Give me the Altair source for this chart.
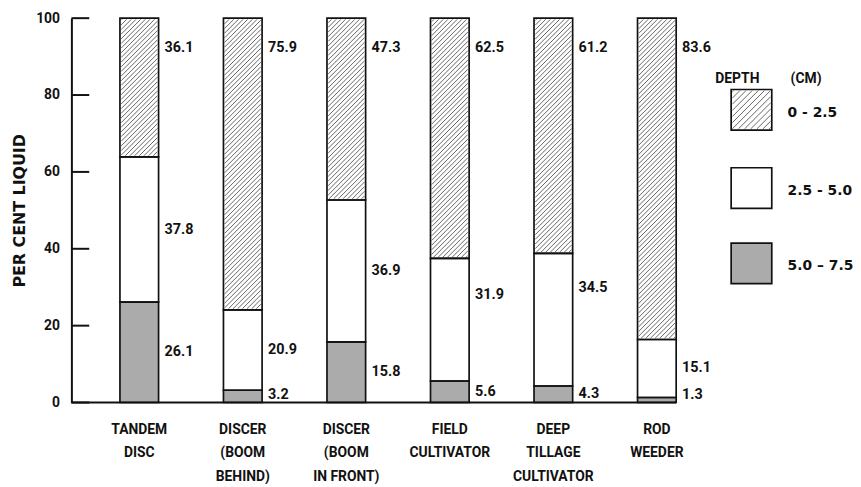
import altair as alt
import pandas as pd
import numpy as np

# ---------------- data ----------------
implements = ["TANDEM\nDISC", "DISCER\n(BOOM\nBEHIND)", "DISCER\n(BOOM\nIN FRONT)",
              "FIELD\nCULTIVATOR", "DEEP\nTILLAGE\nCULTIVATOR", "ROD\nWEEDER"]
depths = ["0 - 2.5", "2.5 - 5.0", "5.0 \u2013 7.5"]
pct_0_25 = [36.1, 75.9, 47.3, 62.5, 61.2, 83.6]
pct_25_50 = [37.8, 20.9, 36.9, 31.9, 34.5, 15.1]
pct_50_75 = [26.1, 3.2, 15.8, 5.6, 4.3, 1.3]
y_ticks = [0, 20, 40, 60, 80, 100]

# ---------------- layout / style ----------------
W, H = 781, 388
PAD = {"left": 64, "top": 8, "right": 8, "bottom": 82}
PX_X = 104.5                      # pixels per category step
X0 = -68.5 / PX_X                 # domain start
XD = [X0, X0 + W / PX_X]
PX_Y = H / 100.0
BAR_HALF = 19.5 / PX_X
LABEL_GAP = 6 / PX_X
FONT = "Roboto"
WIDE_FONT = "DejaVu Sans"
INK = "#111111"
GRAY = "#ababab"
HATCH_COLOR = "#4a4a4a"
label_nudge_px = {(3, 1): -25, (4, 1): -32}   # (bar, layer) -> vertical px shift

def px_to_x(px):
    return X0 + px / PX_X

def px_to_y(py):
    return 100 - py / PX_Y

# ---------------- derived tables ----------------
layers = [pct_50_75, pct_25_50, pct_0_25]          # bottom -> top
layer_depth = [depths[2], depths[1], depths[0]]
rows = []
for i in range(len(implements)):
    lo = 0.0
    for k, vals in enumerate(layers):
        v = vals[i]
        hi = lo + v
        if k == 2:
            ly = px_to_y(30)                          # top labels sit near the top
        elif k == 0:
            ly = max((lo + hi) / 2, 2.0)
        else:
            ly = (lo + hi) / 2
        ly -= label_nudge_px.get((i, k), 0) / PX_Y
        rows.append(dict(idx=i, depth=layer_depth[k], lo=lo, hi=hi,
                         xl=i - BAR_HALF, xr=i + BAR_HALF, value=v,
                         lx=i + BAR_HALF + LABEL_GAP, ly=ly))
        lo = hi
bars = pd.DataFrame(rows)

# legend geometry (plot pixel coordinates)
LEG_BOX_L, LEG_BOX = 666, 41
LEG_TOPS = [72, 151, 227]
leg_rows = []
for d, t in zip(depths, LEG_TOPS):
    leg_rows.append(dict(depth=d, xl=px_to_x(LEG_BOX_L), xr=px_to_x(LEG_BOX_L + LEG_BOX),
                         lo=px_to_y(t + LEG_BOX), hi=px_to_y(t),
                         lx=px_to_x(723), ly=px_to_y(t + LEG_BOX / 2 + 3)))
legend = pd.DataFrame(leg_rows)


def hatch(df, spacing, inset=1.2):
    out = []
    for _, r in df.iterrows():
        Xl, Xr = r.xl * PX_X + inset, r.xr * PX_X - inset
        Yl, Yh = r.lo * PX_Y + inset, r.hi * PX_Y - inset
        c = np.floor((Yl - Xr) / spacing) * spacing
        while c < Yh - Xl:
            xs, xe = max(Xl, Yl - c), min(Xr, Yh - c)
            if xe - xs > 0.6:
                out.append(dict(x1=xs / PX_X, y1=(xs + c) / PX_Y,
                                x2=xe / PX_X, y2=(xe + c) / PX_Y))
            c += spacing
    return pd.DataFrame(out)


hatch_bars = hatch(bars[bars.depth == depths[0]], 4.7)
hatch_leg = hatch(legend[legend.depth == depths[0]], 6.2)
hatch_all = pd.concat([hatch_bars, hatch_leg], ignore_index=True)

xs = alt.Scale(domain=XD, nice=False, zero=False)
ys = alt.Scale(domain=[0, 100], nice=False, zero=False)
fill_scale = alt.Scale(domain=depths, range=["#ffffff", "#ffffff", GRAY])

yaxis = alt.Axis(values=y_ticks, ticks=False, grid=False, labelPadding=12,
                 labelFont=FONT, labelFontSize=14, labelFontWeight="bold", labelColor=INK,
                 domainColor=INK, domainWidth=2, title="PER CENT LIQUID",
                 titleFont=WIDE_FONT, titleFontSize=16, titleFontWeight="bold",
                 titleColor=INK, titlePadding=8)

boxes = pd.concat([bars[["depth", "xl", "xr", "lo", "hi"]],
                   legend[["depth", "xl", "xr", "lo", "hi"]]], ignore_index=True)

fills = alt.Chart(boxes).mark_rect().encode(
    x=alt.X("xl:Q", scale=xs, axis=None), x2="xr:Q",
    y=alt.Y("lo:Q", scale=ys, axis=yaxis), y2="hi:Q",
    fill=alt.Fill("depth:N", scale=fill_scale, legend=None))

hatch_layer = alt.Chart(hatch_all).mark_rule(color=HATCH_COLOR, strokeWidth=0.85).encode(
    x=alt.X("x1:Q", scale=xs, axis=None), x2="x2:Q",
    y=alt.Y("y1:Q", scale=ys), y2="y2:Q")

outlines = alt.Chart(boxes).mark_rect(filled=False, stroke=INK, strokeWidth=1.7).encode(
    x=alt.X("xl:Q", scale=xs, axis=None), x2="xr:Q",
    y=alt.Y("lo:Q", scale=ys), y2="hi:Q")

ticks = alt.Chart(pd.DataFrame({"v": y_ticks})).mark_rule(color=INK, strokeWidth=2).encode(
    x=alt.value(0), x2=alt.value(18), y=alt.Y("v:Q", scale=ys))

baseline = alt.Chart(pd.DataFrame({"a": [XD[0]], "b": [len(implements) - 1 + BAR_HALF], "y": [0]})
                     ).mark_rule(color=INK, strokeWidth=2).encode(
    x=alt.X("a:Q", scale=xs, axis=None), x2="b:Q", y=alt.Y("y:Q", scale=ys))

values = alt.Chart(bars).mark_text(align="left", baseline="middle", font=FONT,
                                   fontSize=14.5, fontWeight="bold", color=INK).encode(
    x=alt.X("lx:Q", scale=xs, axis=None), y=alt.Y("ly:Q", scale=ys),
    text=alt.Text("value:Q", format=".1f"))

cats = alt.Chart(pd.DataFrame({"idx": range(len(implements)), "name": implements})).mark_text(
    align="center", baseline="top", lineBreak="\n", lineHeight=23.5, font=FONT,
    fontSize=14, fontWeight="bold", color=INK).encode(
    x=alt.X("idx:Q", scale=xs, axis=None), y=alt.value(409), text="name:N")

leg_labels = alt.Chart(legend).mark_text(align="left", baseline="middle", font=WIDE_FONT,
                                         fontSize=14, fontWeight="bold", color=INK).encode(
    x=alt.X("lx:Q", scale=xs, axis=None), y=alt.Y("ly:Q", scale=ys), text="depth:N")

leg_title = alt.Chart(pd.DataFrame({"t": ["DEPTH", "(CM)"], "x": [px_to_x(650), px_to_x(726)],
                                    "y": [px_to_y(61)] * 2})).mark_text(
    align="left", baseline="middle", font=FONT, fontSize=14, fontWeight="bold", color=INK).encode(
    x=alt.X("x:Q", scale=xs, axis=None), y=alt.Y("y:Q", scale=ys), text="t:N")

chart = alt.layer(fills, hatch_layer, outlines, ticks, baseline, values, cats,
                  leg_labels, leg_title).properties(
    width=W, height=H, padding=PAD,
    autosize=alt.AutoSizeParams(type="none"),
    background="white",
).configure_view(stroke=None)

chart.save("out.html", embed_options={"renderer": "svg", "actions": False})
